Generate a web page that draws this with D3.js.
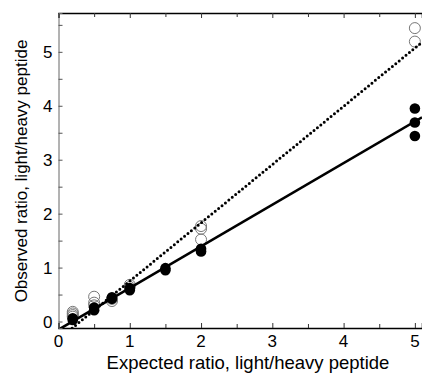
<!DOCTYPE html>
<html>
<head>
<meta charset="utf-8">
<script src="https://cdn.jsdelivr.net/npm/d3@7"></script>
<style>
  body { margin: 0; background: #fff; }
  text { font-family: "Liberation Sans", Arial, sans-serif; }
</style>
</head>
<body>
<div id="chart"></div>
<script>
// Open circles (series A)
const openX = [0.2, 0.2, 0.2, 0.2, 0.5, 0.5, 0.5, 0.75, 0.75, 1, 1, 2, 2, 2, 5, 5];
const openY = [0.18, 0.15, 0.12, 0.09, 0.46, 0.35, 0.3, 0.42, 0.38, 0.68, 0.64, 1.77, 1.72, 1.52, 5.44, 5.19];
// Filled circles (series B)
const filledX = [0.2, 0.2, 0.5, 0.5, 0.75, 0.75, 1, 1, 1.5, 1.5, 2, 2, 5, 5, 5];
const filledY = [0.06, 0.03, 0.26, 0.21, 0.45, 0.42, 0.62, 0.58, 0.99, 0.95, 1.35, 1.3, 3.95, 3.69, 3.44];
// Linear fits [slope, intercept]
const dottedFit = [1.08, -0.33];
const solidFit = [0.772, -0.15];

const xTicks = [0, 1, 2, 3, 4, 5];
const yTicks = [0, 1, 2, 3, 4, 5];

const W = 422, H = 374;
const margin = { top: 13, right: 0, bottom: 46, left: 58.5 };
const width = W - margin.left - margin.right;
const height = H - margin.top - margin.bottom;

const svg = d3.select('#chart').append('svg')
  .attr('width', W).attr('height', H);

const g = svg.append('g')
  .attr('transform', `translate(${margin.left},${margin.top})`);

const x = d3.scaleLinear().domain([0, 5.1]).range([0, width]);
const y = d3.scaleLinear().domain([-0.12, 5.72]).range([height, 0]);

svg.append('defs').append('clipPath').attr('id', 'clip')
  .append('rect').attr('width', width).attr('height', height);

const plot = g.append('g').attr('clip-path', 'url(#clip)');

// Open circles
plot.selectAll('.open').data(openX).join('circle')
  .attr('cx', (d) => x(d))
  .attr('cy', (d, i) => y(openY[i]))
  .attr('r', 5.5)
  .attr('fill', 'none')
  .attr('stroke', '#777')
  .attr('stroke-width', 1);

// Filled circles
plot.selectAll('.filled').data(filledX).join('circle')
  .attr('cx', (d) => x(d))
  .attr('cy', (d, i) => y(filledY[i]))
  .attr('r', 5.3)
  .attr('fill', '#000');

// Fit lines
const fitLine = (fit) => {
  const xs = x.domain();
  return d3.line()(xs.map(v => [x(v), y(fit[0] * v + fit[1])]));
};

plot.append('path')
  .attr('d', fitLine(dottedFit))
  .attr('fill', 'none')
  .attr('stroke', '#000')
  .attr('stroke-width', 3)
  .attr('stroke-linecap', 'round')
  .attr('stroke-dasharray', '0 4.4');

plot.append('path')
  .attr('d', fitLine(solidFit))
  .attr('fill', 'none')
  .attr('stroke', '#000')
  .attr('stroke-width', 2.6);

// Axes with inward ticks
const halfX = d3.range(0, 5.01, 0.5);
const halfY = d3.range(0, 5.51, 0.5);

const xAxis = g.append('g').attr('transform', `translate(0,${height})`)
  .call(d3.axisBottom(x).tickValues(halfX).tickSize(-5).tickFormat(''));
xAxis.select('.domain').attr('stroke', '#000').attr('stroke-width', 1.5);
xAxis.selectAll('.tick line').attr('stroke', '#333')
  .attr('y2', d => Number.isInteger(d) ? -5 : -4);

const topAxis = g.append('g')
  .call(d3.axisTop(x).tickValues(halfX).tickSize(-5).tickFormat(''));
topAxis.select('.domain').attr('stroke', '#000').attr('stroke-width', 1.5);
topAxis.selectAll('.tick line').attr('stroke', '#333')
  .attr('y2', d => Number.isInteger(d) ? 5 : 4);

const yAxis = g.append('g')
  .call(d3.axisLeft(y).tickValues(halfY).tickSize(-4).tickFormat(''));
yAxis.select('.domain').attr('stroke', '#666').attr('stroke-width', 1);
yAxis.selectAll('.tick line').attr('stroke', '#555');

// Tick labels
g.selectAll('.xl').data(xTicks).join('text')
  .attr('x', d => x(d))
  .attr('y', height + 19)
  .attr('text-anchor', 'middle')
  .attr('font-size', 17)
  .text(d => d);

g.selectAll('.yl').data(yTicks).join('text')
  .attr('x', -6)
  .attr('y', d => y(d) + 6)
  .attr('text-anchor', 'end')
  .attr('font-size', 17)
  .text(d => d);

// Axis titles
svg.append('text')
  .attr('x', 248).attr('y', 369)
  .attr('text-anchor', 'middle')
  .attr('font-size', 18.5)
  .text('Expected ratio, light/heavy peptide');

svg.append('text')
  .attr('transform', 'translate(27,171) rotate(-90)')
  .attr('text-anchor', 'middle')
  .attr('font-size', 17)
  .text('Observed ratio, light/heavy peptide');
</script>
</body>
</html>
